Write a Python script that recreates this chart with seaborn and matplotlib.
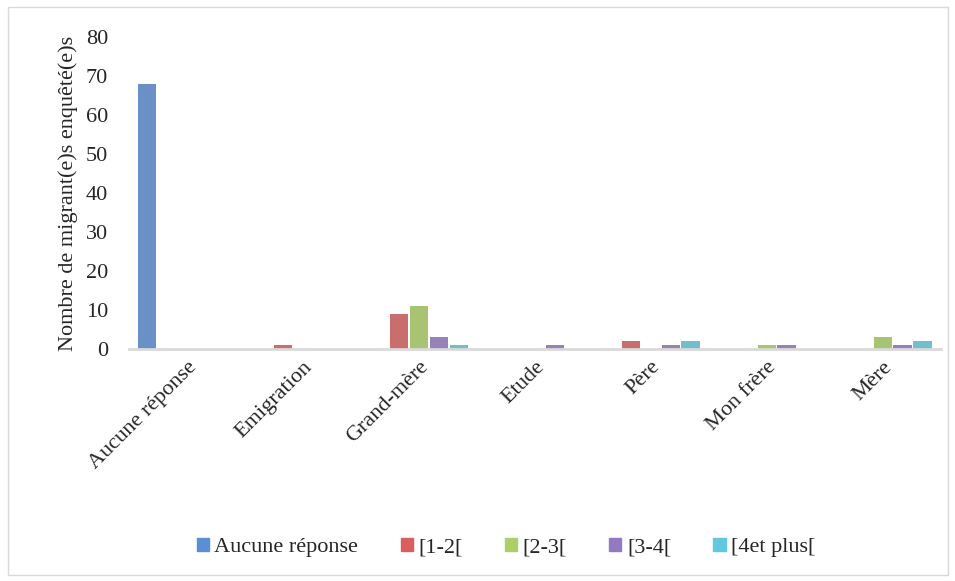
import matplotlib
matplotlib.use("Agg")
import matplotlib.pyplot as plt
import seaborn as sns
import pandas as pd
from matplotlib.patches import Rectangle

categories = ["Aucune réponse", "Emigration", "Grand-mère", "Etude", "Père", "Mon frère", "Mère"]
series = ["Aucune réponse", "[1-2[", "[2-3[", "[3-4[", "[4et plus["]

aucune = [68, 0, 0, 0, 0, 0, 0]
s_1_2 = [0, 1, 9, 0, 2, 0, 0]
s_2_3 = [0, 0, 11, 0, 0, 1, 3]
s_3_4 = [0, 0, 3, 1, 1, 1, 1]
s_4_plus = [0, 0, 1, 0, 2, 0, 2]

colors = ["#5a8ed6", "#d95f5c", "#acd065", "#9379c0", "#62c8de"]

rows = []
for name, vals in zip(series, [aucune, s_1_2, s_2_3, s_3_4, s_4_plus]):
    for cat, v in zip(categories, vals):
        rows.append({"cat": cat, "serie": name, "val": v})
df = pd.DataFrame(rows)

sns.set_style("white")
plt.rcParams["font.family"] = ["Liberation Serif", "DejaVu Serif"]
fs = 16

fig = plt.figure(figsize=(9.55, 5.81), dpi=100)
ax = fig.add_axes([0.135, 0.399, 0.85, 0.537])

sns.barplot(data=df, x="cat", y="val", hue="serie", order=categories, hue_order=series,
            palette=colors, width=0.86, gap=0.08, ax=ax, edgecolor="none")

ax.set_ylim(0, 80)
ax.set_yticks(range(0, 81, 10))
ax.tick_params(axis="y", labelsize=fs, length=0, pad=15)
ax.tick_params(axis="x", labelsize=fs, length=0, pad=6)
plt.setp(ax.get_xticklabels(), rotation=45, ha="right", rotation_mode="anchor")
ax.set_xlabel("")
ax.set_ylabel("Nombre de migrant(e)s enquêté(e)s", fontsize=fs, labelpad=6)

for side in ["top", "right", "left"]:
    ax.spines[side].set_visible(False)
ax.spines["bottom"].set_color("#d9d9d9")
ax.spines["bottom"].set_linewidth(2)

ax.legend_.remove()
handles = [Rectangle((0, 0), 1, 1, color=c) for c in colors]
fig.legend(handles, series, loc="center", bbox_to_anchor=(0.53, 0.058), ncol=5,
           frameon=False, fontsize=fs, handlelength=0.55, handleheight=0.55,
           handletextpad=0.25, columnspacing=1.9)

fig.patches.append(Rectangle((0.008, 0.01), 0.985, 0.978, transform=fig.transFigure,
                             fill=False, edgecolor="#d9d9d9", linewidth=1))

fig.savefig("out.png", dpi=100)
